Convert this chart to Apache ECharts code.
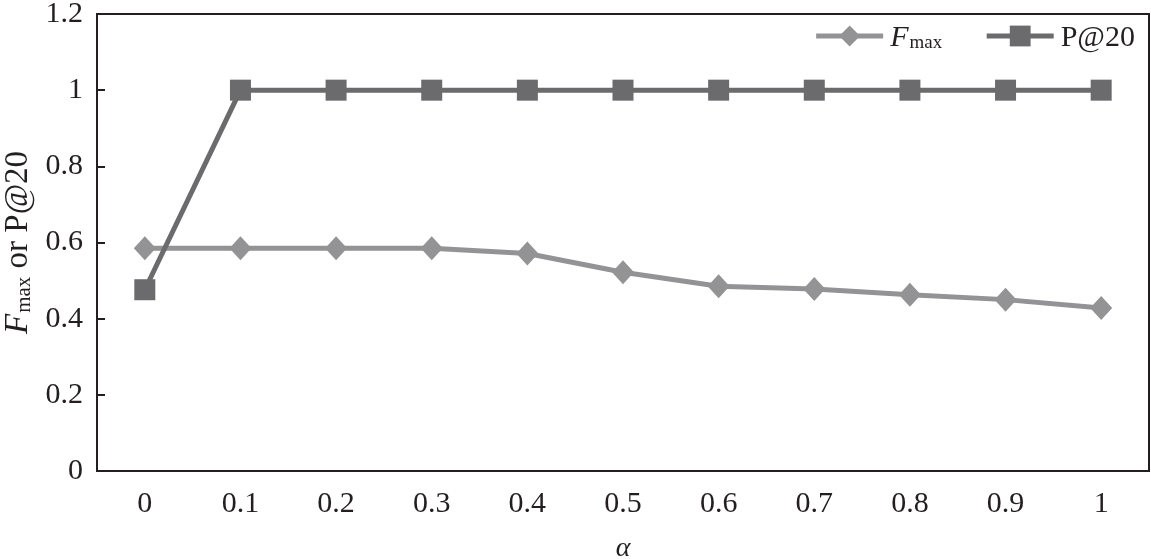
<!DOCTYPE html>
<html>
<head>
<meta charset="utf-8">
<script src="https://cdn.jsdelivr.net/npm/echarts@6/dist/echarts.min.js"></script>
<style>html,body{margin:0;padding:0;background:#fff}#c{width:1151px;height:559px}</style>
</head>
<body>
<div id="c"></div>
<script>
var categories = ['0','0.1','0.2','0.3','0.4','0.5','0.6','0.7','0.8','0.9','1'];
var fmaxValues = [0.585, 0.585, 0.585, 0.585, 0.571, 0.522, 0.485, 0.478, 0.463, 0.45, 0.428];
var p20Values = [0.476, 1, 1, 1, 1, 1, 1, 1, 1, 1, 1];
var yTicks = [0, 0.2, 0.4, 0.6, 0.8, 1, 1.2];

var FONT = 'Liberation Serif';
var chart = echarts.init(document.getElementById('c'), null, {renderer: 'canvas'});
var rich = {
  i: {fontFamily: FONT, fontStyle: 'italic', fontSize: 30, color: '#231f20', lineHeight: 34, verticalAlign: 'bottom'},
  sub: {fontFamily: FONT, fontSize: 19, color: '#231f20', lineHeight: 34, verticalAlign: 'bottom', padding: [0, 0, 0, 1]},
  n: {fontFamily: FONT, fontSize: 30, color: '#231f20', lineHeight: 34, verticalAlign: 'bottom'}
};
var richName = {
  i: {fontFamily: FONT, fontStyle: 'italic', fontSize: 33, color: '#231f20', lineHeight: 36, verticalAlign: 'bottom'},
  sub: {fontFamily: FONT, fontSize: 21, color: '#231f20', lineHeight: 36, verticalAlign: 'bottom', padding: [0, 0, 0, 1]},
  n: {fontFamily: FONT, fontSize: 33, color: '#231f20', lineHeight: 36, verticalAlign: 'bottom'}
};
chart.setOption({
  animation: false,
  backgroundColor: '#fff',
  grid: {left: 97, right: 2, top: 14, bottom: 88, show: true, borderColor: '#231f20', borderWidth: 2, containLabel: false, outerBoundsMode: 'none'},
  legend: {
    right: 11, top: 18, itemWidth: 67, itemHeight: 26, itemGap: 42,
    data: ['F_max', 'P@20'],
    lineStyle: {width: 5},
    formatter: function (name) { return name === 'F_max' ? '{i|F}{sub|max}' : '{n|P@20}'; },
    textStyle: {rich: rich, fontFamily: FONT, fontSize: 30, color: '#231f20', padding: [0, 0, 0, 2]}
  },
  xAxis: {
    type: 'category', data: categories, boundaryGap: true,
    name: 'α', nameLocation: 'middle', nameGap: 64,
    nameTextStyle: {fontFamily: FONT, fontStyle: 'italic', fontSize: 28, color: '#231f20'},
    axisLine: {lineStyle: {color: '#231f20', width: 2}},
    axisTick: {show: false},
    axisLabel: {fontFamily: FONT, fontSize: 30, color: '#231f20', margin: 18}
  },
  yAxis: {
    type: 'value', min: 0, max: 1.2, interval: 0.2,
    name: '{i|F}{sub|max}{n| or P@20}', nameLocation: 'middle', nameGap: 62,
    nameTextStyle: {rich: richName},
    axisLine: {show: true, lineStyle: {color: '#231f20', width: 2}},
    axisTick: {show: true, inside: true, length: 8, lineStyle: {color: '#231f20', width: 2}},
    splitLine: {show: false},
    axisLabel: {fontFamily: FONT, fontSize: 30, color: '#231f20', margin: 14,
      formatter: function (v) { var t = yTicks.find(function (k) { return Math.abs(k - v) < 1e-9; }); return String(t !== undefined ? t : v); }}
  },
  series: [
    {
      name: 'F_max', type: 'line', data: fmaxValues,
      symbol: 'diamond', symbolSize: [22, 24], showSymbol: true,
      itemStyle: {color: '#939396'}, lineStyle: {color: '#939396', width: 5}, z: 2
    },
    {
      name: 'P@20', type: 'line', data: p20Values,
      symbol: 'rect', symbolSize: 21,
      itemStyle: {color: '#6b6b6d'}, lineStyle: {color: '#6b6b6d', width: 5}, z: 3
    }
  ]
});
</script>
</body>
</html>
